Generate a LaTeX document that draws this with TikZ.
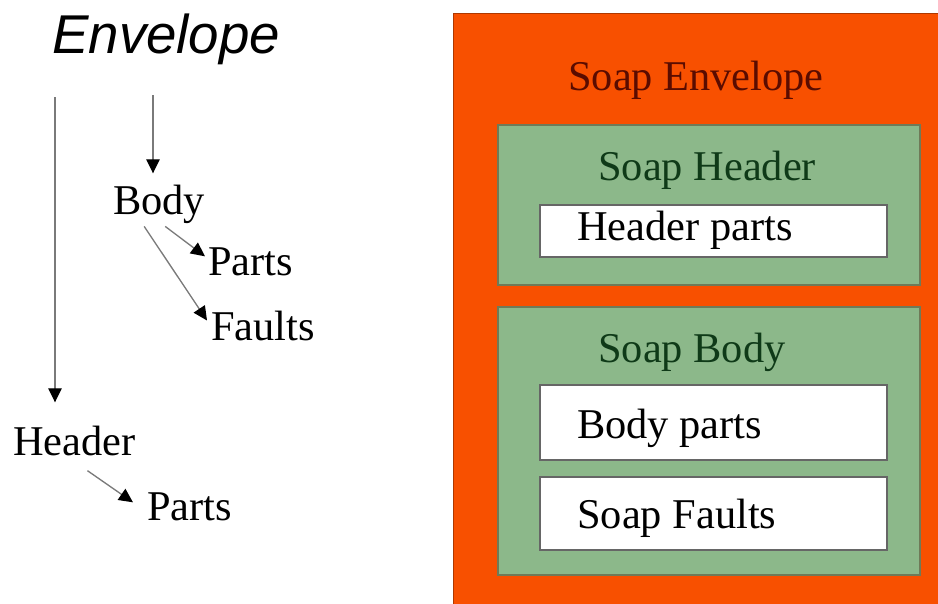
\documentclass[tikz,border=0pt]{standalone}
\usepackage{fontspec}
\setmainfont{Liberation Serif}
\newfontfamily\envfont{Liberation Sans}
\usetikzlibrary{arrows.meta,calc}

\definecolor{soaporange}{HTML}{F85000}
\definecolor{soapgreen}{HTML}{8CB88A}
\definecolor{greenedge}{HTML}{6F7A58}
\definecolor{envtext}{HTML}{5A0C00}
\definecolor{hdrtext}{HTML}{0F3A18}
\definecolor{linegray}{HTML}{7A7A7A}

\tikzset{
  lbl/.style={inner sep=0pt, anchor=base west, font=\fontsize{31.8}{36}\selectfont},
  arr/.style={draw=linegray, line width=1pt,
    -{Triangle[length=10.5pt,width=10pt,fill=black,color=black]}},
  outerbox/.style={fill=soaporange, draw=soaporange!70!black, line width=0.6pt},
  greenbox/.style={fill=soapgreen, draw=greenedge, line width=1.2pt},
  whitebox/.style={fill=white, draw=gray!80!black, line width=0.8pt},
}

\begin{document}
\begin{tikzpicture}[x=0.75pt,y=-0.75pt]
\useasboundingbox (0,0) rectangle (938,603);

% ---- tree view of the envelope ----
\node[inner sep=0pt, anchor=base west, font=\envfont\itshape\fontsize{41}{46}\selectfont] (env) at (52,53) {Envelope};
\node[lbl] (body)   at (113,214) {Body};
\node[lbl] (bparts) at (208,275) {Parts};
\node[lbl] (faults) at (211,340) {Faults};
\node[lbl] (header) at (13,455)  {Header};
\node[lbl] (hparts) at (147,520) {Parts};

\coordinate (vhead) at (55,97);
\coordinate (vbody) at (153,95);

\draw[arr] (vhead) -- ($(vhead |- header.north)+(0,-23)$);
\draw[arr] (vbody) -- ($(vbody |- body.north)+(0,-11)$);
\draw[arr] ($(body.south)+(6,3)$) -- ($(bparts.west)+(-3,-5)$);
\draw[arr] ($(body.south)+(-15,3)$) -- ($(faults.west)+(-4,-5)$);
\draw[arr] ($(header.south)+(13,15)$) -- ($(hparts.west)+(-14,-4)$);

% ---- nested SOAP message boxes ----
\draw[outerbox] (453,13) rectangle (942,607);
\draw[greenbox] (498,125) rectangle (920,285);
\draw[whitebox] (540,205) rectangle (887,257);
\draw[greenbox] (498,307) rectangle (920,575);
\draw[whitebox] (540,385) rectangle (887,460);
\draw[whitebox] (540,477) rectangle (887,550);

\node[lbl, text=envtext] (senv)  at (568,90)  {Soap Envelope};
\node[lbl, text=hdrtext] (shdr)  at (598,180) {Soap Header};
\node[lbl]               (hprt)  at (577,240) {Header parts};
\node[lbl, text=hdrtext] (sbody) at (598,362) {Soap Body};
\node[lbl]               (bprt)  at (577,438) {Body parts};
\node[lbl]               (sflt)  at (577,528) {Soap Faults};
\end{tikzpicture}
\end{document}
